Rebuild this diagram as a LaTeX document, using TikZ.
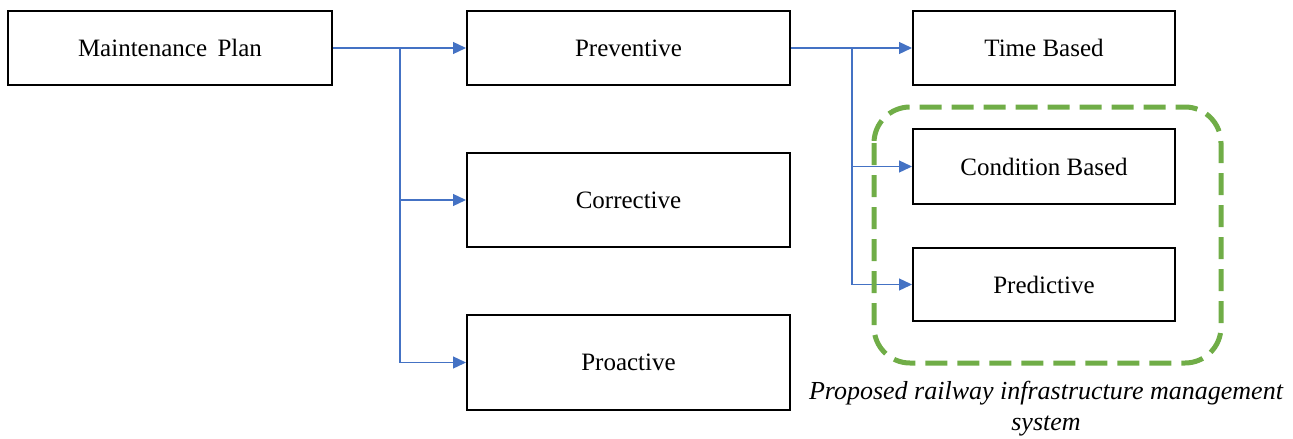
\documentclass[tikz,border=0pt]{standalone}
\usepackage{fontspec}
\setmainfont{Liberation Serif}
\usetikzlibrary{arrows.meta}
\definecolor{lineblue}{HTML}{4472C4}
\definecolor{boxgreen}{HTML}{70AD47}
\begin{document}
\begin{tikzpicture}[x=1pt,y=-1pt,
  box/.style={draw=black,line width=2pt,fill=white,inner sep=0pt,font=\fontsize{25}{29}\selectfont},
  conn/.style={draw=lineblue,line width=1.3pt,-{Triangle[length=13pt,width=12pt]}}]
\useasboundingbox (0,0) rectangle (1293,439);
\node[box,minimum width=324pt,minimum height=74pt] (mp) at (170,48) {Maintenance\, Plan};
\node[box,minimum width=323pt,minimum height=74pt] (pre) at (628.5,48) {Preventive};
\node[box,minimum width=323pt,minimum height=94pt] (cor) at (628.5,200) {Corrective};
\node[box,minimum width=323pt,minimum height=95pt] (pro) at (628.5,362.5) {Proactive};
\node[box,minimum width=262pt,minimum height=74pt] (tb) at (1044,48) {Time Based};
\node[box,minimum width=262pt,minimum height=75pt] (cb) at (1044,166.5) {Condition Based};
\node[box,minimum width=262pt,minimum height=73pt] (pd) at (1044,284.5) {Predictive};
\coordinate (j1) at (400,48);
\coordinate (j2) at (852,48);
\draw[conn] (mp.east) -- (pre.west);
\draw[conn] (j1) |- (cor.west);
\draw[conn] (j1) |- (pro.west);
\draw[conn] (pre.east) -- (tb.west);
\draw[conn] (j2) |- (cb.west);
\draw[conn] (j2) |- (pd.west);
\draw[boxgreen,line width=5pt,dash pattern=on 22pt off 10pt,rounded corners=36pt] (874,107) rectangle (1221,363);
\node[align=center,font=\fontsize{26}{31}\selectfont\itshape,inner sep=0pt] (cap) at (1046,409) {Proposed railway infrastructure management\\system};
\end{tikzpicture}
\end{document}
